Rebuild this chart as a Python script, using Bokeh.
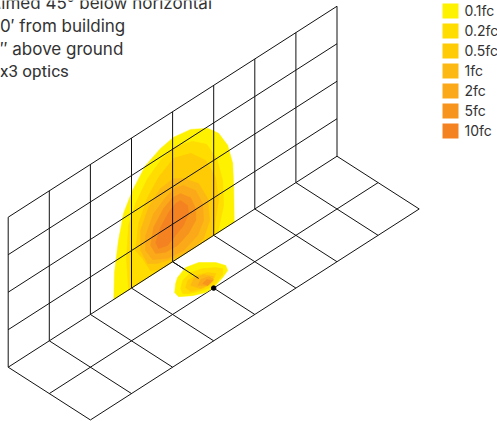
from bokeh.plotting import figure
from bokeh.models import Range1d
from bokeh.core.properties import value
from bokeh.embed import file_html
from bokeh.resources import INLINE

note_lines = ["Aimed 45° below horizontal", "30′ from building", "8″ above ground", "3x3 optics"]
note_fonts = ["Inter", "Inter", "Inter", "Roboto"]
legend_labels = ["0.1fc", "0.2fc", "0.5fc", "1fc", "2fc", "5fc", "10fc"]
legend_colors = ["#FFF200", "#FFDD00", "#FFCB05", "#FDB913", "#FBA919", "#F7941D", "#F58220"]

wall_columns = 8
wall_rows = 4
floor_rows = 2

# illuminance contours on the wall: (distance along wall, height), in grid cells
wall_01_u = [2.57, 2.585, 2.683, 2.805, 3.024, 3.341, 3.707, 4.024, 4.439, 4.854, 5.122, 5.341, 5.463, 5.488, 5.5]
wall_01_v = [0, 0.705, 1.49, 2.125, 2.587, 3.03, 3.228, 3.30, 3.22, 2.956, 2.635, 2.16, 1.594, 0.937, 0]
wall_02_u = [2.927, 2.878, 2.927, 3.098, 3.39, 3.707, 4.073, 4.488, 4.829, 5.073, 5.22, 5.244, 5.1]
wall_02_v = [0, 0.873, 1.72, 2.187, 2.65, 2.908, 3.025, 2.868, 2.547, 2.0, 1.31, 0.63, 0]
wall_05_u = [3.707, 3.46, 3.27, 3.098, 3.17, 3.39, 3.659, 4.024, 4.44, 4.805, 5.05, 5.12, 5.0, 5.0]
wall_05_v = [0, 0.14, 0.6, 0.93, 1.6, 2.14, 2.49, 2.74, 2.58, 2.136, 1.51, 0.846, 0.13, 0]
wall_1_u = [4.268, 4.634, 4.854, 4.902, 4.756, 4.439, 4.024, 3.634, 3.39, 3.22, 3.22, 3.415, 3.707, 4.024]
wall_1_v = [2.03, 1.64, 1.087, 0.465, 0.09, 0, 0.07, 0.21, 0.38, 0.846, 1.38, 1.86, 2.16, 2.2]
wall_2_u = [4.268, 4.561, 4.732, 4.756, 4.61, 4.268, 3.878, 3.512, 3.341, 3.341, 3.537, 3.829, 4.073]
wall_2_v = [1.845, 1.506, 1.04, 0.57, 0.27, 0.11, 0.17, 0.40, 0.76, 1.16, 1.61, 1.83, 1.93]
wall_5_u = [4.195, 4.439, 4.561, 4.561, 4.39, 4.122, 3.829, 3.585, 3.463, 3.537, 3.78, 4.0]
wall_5_v = [1.68, 1.40, 1.025, 0.705, 0.48, 0.35, 0.37, 0.51, 0.81, 1.24, 1.575, 1.71]
wall_10_u = [4.195, 4.366, 4.39, 4.268, 4.073, 3.878, 3.659, 3.585, 3.707, 3.902, 4.073]
wall_10_v = [1.495, 1.244, 1.01, 0.78, 0.65, 0.52, 0.59, 0.80, 1.12, 1.38, 1.50]

# illuminance contours on the floor: (distance along wall, distance from wall), in grid cells
floor_01_u = [3.622, 3.76, 4.048, 4.302, 4.51, 4.575, 4.503, 4.31, 4.01, 3.817, 3.6, 3.41, 3.44]
floor_01_w = [0.451, 0.36, 0.269, 0.332, 0.54, 0.718, 0.838, 0.91, 0.99, 0.988, 0.886, 0.735, 0.61]
floor_02_u = [3.588, 3.765, 4.014, 4.237, 4.414, 4.48, 4.367, 4.016, 3.818, 3.59, 3.517]
floor_02_w = [0.607, 0.48, 0.425, 0.495, 0.635, 0.74, 0.853, 0.96, 0.913, 0.8, 0.727]
floor_05_u = [3.668, 3.826, 4.018, 4.22, 4.3, 4.09, 3.857, 3.653]
floor_05_w = [0.649, 0.54, 0.543, 0.632, 0.749, 0.884, 0.876, 0.786]
floor_1_u = [3.767, 3.937, 4.135, 4.219, 4.018, 3.832]
floor_1_w = [0.672, 0.576, 0.622, 0.782, 0.885, 0.851]
floor_2_u = [3.853, 4.003, 4.158, 4.162, 3.975]
floor_2_w = [0.758, 0.68, 0.72, 0.838, 0.879]
floor_5_u = [3.951, 4.076, 4.13, 3.975]
floor_5_w = [0.78, 0.753, 0.846, 0.879]

fixture_u = 4
fixture_w = 1
arm_end_w = 0.634

X0, Y0, DX, DY, DZ = 7.7, 366.7, 41.1, 26.37, 37.5


def project(u, w=0.0, v=0.0):
    return X0 + DX * (u + w), Y0 - DY * (u - w) - DZ * v


def wall_xy(us, vs):
    pts = [project(u, 0, v) for u, v in zip(us, vs)]
    return [a for a, _ in pts], [b for _, b in pts]


def floor_xy(us, ws):
    pts = [project(u, w) for u, w in zip(us, ws)]
    return [a for a, _ in pts], [b for _, b in pts]


p = figure(width=497, height=421, x_range=Range1d(0, 497), y_range=Range1d(421, 0),
           toolbar_location=None, output_backend="svg", min_border=0)
p.axis.visible = False
p.grid.visible = False
p.outline_line_color = None

LINE = dict(line_color="#111111", line_width=1)

# floor grid
for i in range(wall_columns + 1):
    a = project(i, 0)
    b = project(i, floor_rows)
    p.line([a[0], b[0]], [a[1], b[1]], **LINE)
for j in range(1, floor_rows + 1):
    a = project(0, j)
    b = project(wall_columns, j)
    p.line([a[0], b[0]], [a[1], b[1]], **LINE)

# floor contours
floor_sets = [(floor_01_u, floor_01_w), (floor_02_u, floor_02_w), (floor_05_u, floor_05_w),
              (floor_1_u, floor_1_w), (floor_2_u, floor_2_w), (floor_5_u, floor_5_w)]
for (us, ws), col in zip(floor_sets, legend_colors):
    xs, ys = floor_xy(us, ws)
    p.patch(xs, ys, fill_color=col, line_color=col, line_width=0.5)

# wall contours
wall_sets = [(wall_01_u, wall_01_v), (wall_02_u, wall_02_v), (wall_05_u, wall_05_v),
             (wall_1_u, wall_1_v), (wall_2_u, wall_2_v), (wall_5_u, wall_5_v), (wall_10_u, wall_10_v)]
for (us, vs), col in zip(wall_sets, legend_colors):
    xs, ys = wall_xy(us, vs)
    p.patch(xs, ys, fill_color=col, line_color=col, line_width=0.5)

# wall grid
for i in range(wall_columns + 1):
    a = project(i, 0, 0)
    b = project(i, 0, wall_rows)
    p.line([a[0], b[0]], [a[1], b[1]], **LINE)
for k in range(wall_rows + 1):
    a = project(0, 0, k)
    b = project(wall_columns, 0, k)
    p.line([a[0], b[0]], [a[1], b[1]], **LINE)

# fixture arm and marker
a = project(fixture_u, 0)
b = project(fixture_u, arm_end_w)
p.line([a[0], b[0]], [a[1], b[1]], **LINE)
c = project(fixture_u, fixture_w)
p.scatter([c[0]], [c[1]], size=4.5, fill_color="#000000", line_color="#000000")

# note text
note_y = [2, 25, 48, 70]
note_x = [-11, -11, -11, -10]
for x, y, line, font in zip(note_x, note_y, note_lines, note_fonts):
    p.text([x], [y], text=[line], text_font=value(font),
           text_font_size="17px", text_color="#333333", text_baseline="alphabetic", text_align="left")

# legend
for i, (lab, col) in enumerate(zip(legend_labels, legend_colors)):
    top = 3 + 20 * i
    p.quad(left=[442], right=[458], top=[top], bottom=[top + 15], fill_color=col, line_color=None)
    p.text([464], [top + 7], text=[lab], text_font=value("Inter"), text_font_size="14px",
           text_color="#333333", text_baseline="alphabetic", text_align="left")

open("out.html", "w").write(file_html(p, INLINE))
